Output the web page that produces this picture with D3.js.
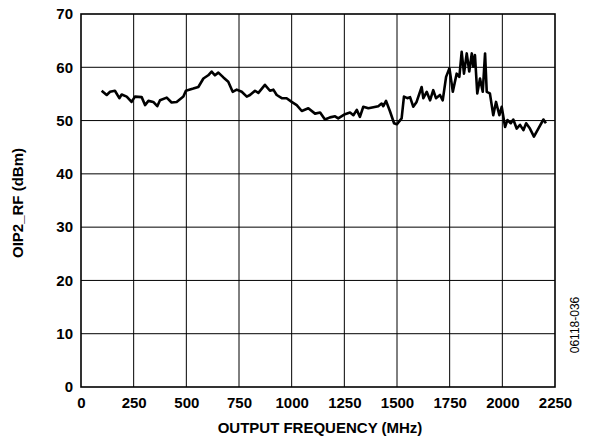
<!DOCTYPE html>
<html><head><meta charset="utf-8">
<script src="https://cdn.jsdelivr.net/npm/d3@7"></script>
<style>body{margin:0;background:#fff}svg{display:block}text{font-family:"Liberation Sans",Arial,sans-serif}</style>
</head><body>
<svg id="c" width="589" height="444"></svg>
<script>
const xTicks = [0,250,500,750,1000,1250,1500,1750,2000,2250];
const yTicks = [0,10,20,30,40,50,60,70];
const freq = [98,122,138,161,182,193,217,240,256,288,304,320,343,362,375,407,430,454,486,498,533,557,581,604,620,636,652,676,699,720,739,763,787,802,826,842,873,897,913,929,953,976,1000,1024,1048,1079,1111,1135,1158,1182,1206,1221,1253,1277,1293,1309,1324,1340,1364,1388,1411,1427,1435,1448,1467,1486,1499,1522,1533,1549,1562,1577,1593,1617,1625,1641,1657,1672,1685,1704,1717,1733,1749,1765,1783,1796,1807,1818,1831,1843,1855,1862,1870,1881,1894,1907,1918,1926,1941,1957,1970,1986,1997,2013,2024,2040,2052,2068,2084,2100,2113,2131,2150,2171,2195,2207];
const oip2 = [55.6,54.8,55.4,55.6,54.2,54.9,54.5,53.5,54.5,54.4,52.9,53.7,53.5,52.7,53.8,54.3,53.4,53.5,54.5,55.6,56.0,56.3,57.9,58.5,59.2,58.5,59.0,58.1,57.3,55.4,55.8,55.4,54.5,54.8,55.6,55.2,56.7,55.6,55.8,54.8,54.2,54.2,53.5,52.9,51.8,52.3,51.3,51.5,50.2,50.6,50.8,50.4,51.2,51.5,51.0,52.0,50.7,52.6,52.3,52.5,52.7,53.2,52.7,53.7,51.7,49.5,49.3,50.4,54.5,54.2,54.4,52.6,53.5,56.3,54.2,55.4,53.8,55.7,54.2,54.8,53.8,58.2,59.8,55.4,58.8,58.2,62.9,58.8,62.6,59.2,62.6,60.1,62.3,55.1,57.9,55.4,62.6,55.4,55.1,51.0,53.5,51.0,52.6,48.8,50.1,49.5,50.2,48.5,49.2,48.2,49.5,48.5,47.0,48.5,50.2,49.5];

const svg = d3.select("#c");
const L=81, R=555, T=14, B=387;
const x = d3.scaleLinear().domain([0,2250]).range([L,R]);
const y = d3.scaleLinear().domain([0,70]).range([B,T]);
const FONT = "Liberation Sans, Arial, sans-serif";

// grid
const g = svg.append("g");
g.selectAll(".vx").data(xTicks.slice(1,-1)).enter().append("line")
  .attr("x1",d=>x(d)).attr("x2",d=>x(d)).attr("y1",T).attr("y2",B)
  .attr("stroke","#000").attr("stroke-width",1);
g.selectAll(".hy").data(yTicks.slice(1,-1)).enter().append("line")
  .attr("x1",L).attr("x2",R).attr("y1",d=>y(d)).attr("y2",d=>y(d))
  .attr("stroke","#000").attr("stroke-width",1);
svg.append("rect").attr("x",L).attr("y",T).attr("width",R-L).attr("height",B-T)
  .attr("fill","none").attr("stroke","#000").attr("stroke-width",1.6);

// axes labels via d3 axes
const xAxis = svg.append("g").attr("transform",`translate(0,${B})`)
  .call(d3.axisBottom(x).tickValues(xTicks).tickSize(0).tickPadding(10).tickFormat(d3.format("d")));
xAxis.select(".domain").remove();
xAxis.selectAll("text").attr("font-size",15).attr("font-weight","bold").attr("fill","#000")
  .attr("font-family",FONT);
const yAxis = svg.append("g").attr("transform",`translate(${L},0)`)
  .call(d3.axisLeft(y).tickValues(yTicks).tickSize(0).tickPadding(8).tickFormat(d3.format("d")));
yAxis.select(".domain").remove();
yAxis.selectAll("text").attr("font-size",15).attr("font-weight","bold").attr("fill","#000")
  .attr("font-family",FONT);

// line
const line = d3.line().x((d,i)=>x(freq[i])).y(d=>y(d)).curve(d3.curveLinear);
svg.append("path").datum(oip2).attr("d",line).attr("fill","none")
  .attr("stroke","#000").attr("stroke-width",2.6).attr("stroke-linejoin","round");

// titles
svg.append("text").attr("x",320).attr("y",432.5).attr("text-anchor","middle")
  .attr("font-size",15).attr("font-weight","bold").text("OUTPUT FREQUENCY (MHz)");
svg.append("text").attr("transform",`translate(23,203) rotate(-90)`).attr("text-anchor","middle")
  .attr("font-size",15).attr("font-weight","bold").text("OIP2_RF (dBm)");
svg.append("text").attr("transform",`translate(579,325) rotate(-90)`).attr("text-anchor","middle")
  .attr("font-size",12).text("06118-036");
</script>
</body></html>
